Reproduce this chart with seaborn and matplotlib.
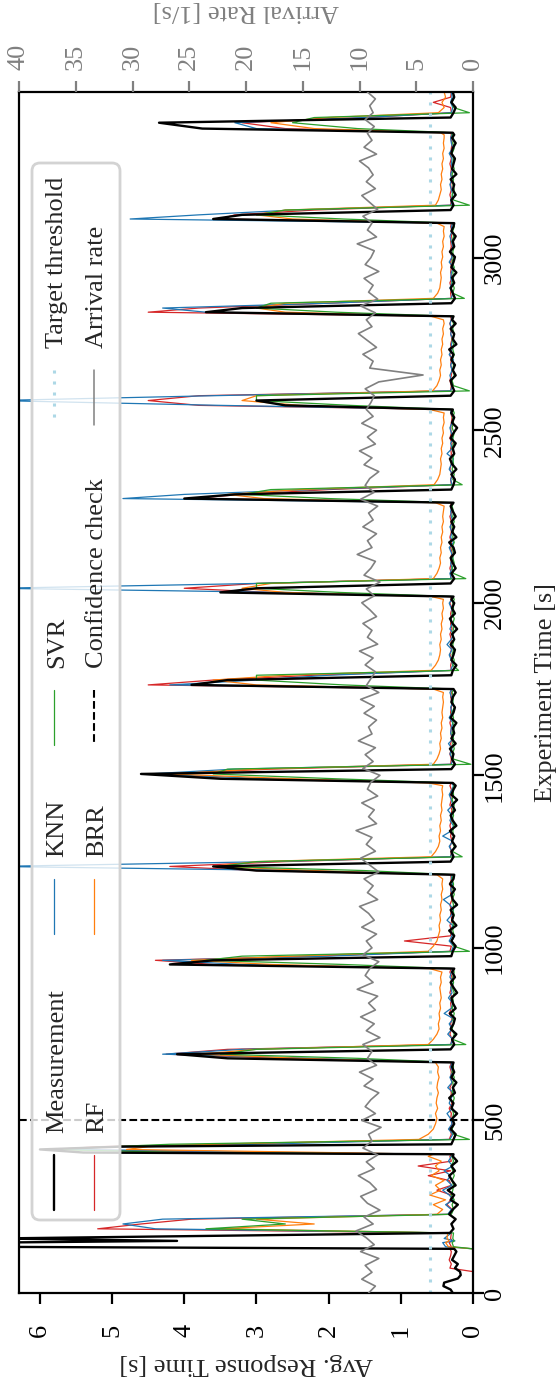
import numpy as np
import pandas as pd
import matplotlib
matplotlib.use('Agg')
import matplotlib.pyplot as plt
import seaborn as sns
from matplotlib.patches import FancyBboxPatch
from matplotlib.lines import Line2D
from matplotlib.transforms import IdentityTransform

# 1. Data (time in s, response time in s, arrival rate in 1/s)
time_s = [
    0, 10, 20, 30, 42, 52, 62, 72, 84, 96, 108, 120, 128,
    134, 146, 151, 158, 174,
    186, 200, 214, 228, 242, 256, 270, 284, 298, 312, 326, 340, 354, 368, 382, 396, 402,
    407, 416, 424, 431,
    445, 460, 475, 490, 505, 520, 535, 550, 565, 580, 595, 610, 625, 640, 655, 668,
    680, 692, 706,
    720, 735, 750, 765, 780, 795, 810, 825, 840, 855, 870, 885, 900, 915, 930, 940,
    952, 964, 976,
    990, 1005, 1020, 1035, 1050, 1065, 1080, 1095, 1110, 1125, 1140, 1155, 1170, 1185, 1200, 1212,
    1224, 1236, 1250,
    1264, 1279, 1294, 1309, 1324, 1339, 1354, 1369, 1384, 1399, 1414, 1429, 1444, 1459, 1470, 1478,
    1490, 1504, 1518,
    1532, 1547, 1562, 1577, 1592, 1607, 1622, 1637, 1652, 1667, 1682, 1697, 1712, 1727, 1740, 1750,
    1762, 1776, 1790,
    1804, 1819, 1834, 1849, 1864, 1879, 1894, 1909, 1924, 1939, 1954, 1969, 1984, 1999, 2010, 2018,
    2030, 2042, 2056,
    2070, 2085, 2100, 2115, 2130, 2145, 2160, 2175, 2190, 2205, 2220, 2235, 2250, 2265, 2280, 2290,
    2302, 2314, 2328,
    2342, 2357, 2372, 2387, 2402, 2417, 2432, 2447, 2462, 2477, 2492, 2507, 2522, 2537, 2550, 2560,
    2572, 2586, 2600,
    2614, 2629, 2644, 2659, 2674, 2689, 2704, 2719, 2734, 2749, 2764, 2779, 2794, 2809, 2820, 2830,
    2842, 2854, 2868,
    2882, 2897, 2912, 2927, 2942, 2957, 2972, 2987, 3002, 3017, 3032, 3047, 3062, 3077, 3090, 3100,
    3112, 3124, 3138,
    3152, 3167, 3182, 3197, 3212, 3227, 3242, 3257, 3272, 3287, 3302, 3317, 3332, 3347, 3356, 3362,
    3374, 3391, 3406,
    3420, 3435, 3450, 3465, 3480,
]

measurement = [
    0.28, 0.31, 0.41, 0.40, 0.21, 0.17, 0.18, 0.25, 0.21, 0.29, 0.26, 0.23, 0.26,
    6.9, 6.7, 4.1, 6.6, 0.32,
    0.27, 0.30, 0.24, 0.33, 0.28, 0.21, 0.31, 0.26, 0.35, 0.24, 0.29, 0.33, 0.25, 0.30, 0.22, 0.28, 0.27,
    5.4, 6.0, 4.9, 0.30,
    0.27, 0.24, 0.31, 0.26, 0.29, 0.22, 0.30, 0.27, 0.33, 0.25, 0.28, 0.23, 0.30, 0.26, 0.29, 0.27,
    3.4, 4.1, 0.31,
    0.26, 0.29, 0.23, 0.31, 0.27, 0.25, 0.32, 0.24, 0.28, 0.30, 0.22, 0.27, 0.31, 0.25, 0.29, 0.26,
    4.2, 3.6, 0.30,
    0.28, 0.24, 0.30, 0.26, 0.33, 0.23, 0.29, 0.27, 0.31, 0.22, 0.28, 0.30, 0.25, 0.32, 0.27, 0.26,
    3.0, 3.6, 0.31,
    0.27, 0.30, 0.24, 0.29, 0.26, 0.32, 0.23, 0.28, 0.31, 0.25, 0.29, 0.22, 0.30, 0.27, 0.24, 0.28,
    3.5, 4.6, 0.30,
    0.25, 0.29, 0.27, 0.32, 0.24, 0.30, 0.26, 0.28, 0.23, 0.31, 0.27, 0.25, 0.30, 0.28, 0.24, 0.27,
    3.9, 3.4, 0.30,
    0.28, 0.23, 0.30, 0.27, 0.25, 0.31, 0.26, 0.29, 0.22, 0.28, 0.32, 0.25, 0.29, 0.26, 0.30, 0.27,
    3.5, 3.0, 0.31,
    0.26, 0.30, 0.24, 0.28, 0.31, 0.25, 0.27, 0.33, 0.23, 0.29, 0.26, 0.30, 0.24, 0.28, 0.31, 0.27,
    4.0, 3.3, 0.30,
    0.27, 0.25, 0.30, 0.23, 0.29, 0.32, 0.26, 0.28, 0.24, 0.31, 0.27, 0.22, 0.29, 0.26, 0.30, 0.28,
    2.6, 3.0, 0.31,
    0.26, 0.29, 0.31, 0.24, 0.28, 0.25, 0.30, 0.27, 0.33, 0.23, 0.28, 0.26, 0.31, 0.24, 0.29, 0.27,
    3.7, 3.2, 0.30,
    0.25, 0.28, 0.31, 0.26, 0.29, 0.23, 0.30, 0.27, 0.25, 0.32, 0.26, 0.28, 0.24, 0.30, 0.27, 0.26,
    3.6, 3.2, 0.31,
    0.27, 0.30, 0.24, 0.28, 0.26, 0.31, 0.23, 0.29, 0.27, 0.25, 0.30, 0.28, 0.24, 0.29, 0.26, 0.28,
    3.75, 4.35, 0.31,
    0.27, 0.24, 0.30, 0.26, 0.28,
]

knn = [
    0, 0, 0, 0, 0, 0, 0, 0, 0, 0, 0, 0, 0,
    0.38, 0.42, 0.25, 0.40, 0.30,
    4.4, 4.85, 4.3, 0.35, 0.30, 0.38, 0.27, 0.33, 0.42, 0.29, 0.36, 0.31, 0.40, 0.28, 0.34, 0.30, 0.29,
    2.5, 5.6, 5.0, 3.0,
    0.32, 0.28, 0.34, 0.29, 0.31, 0.36, 0.28, 0.33, 0.30, 0.27, 0.35, 0.29, 0.32, 0.28, 0.31, 0.29,
    2.2, 4.3, 3.2,
    0.31, 0.28, 0.35, 0.29, 0.33, 0.27, 0.40, 0.30, 0.28, 0.34, 0.29, 0.31, 0.27, 0.32, 0.30, 0.28,
    3.2, 4.3, 2.0,
    0.30, 0.27, 0.33, 0.29, 0.31, 0.28, 0.36, 0.30, 0.27, 0.32, 0.41, 0.29, 0.31, 0.28, 0.30, 0.29,
    2.4, 6.6, 2.8,
    0.31, 0.29, 0.33, 0.28, 0.42, 0.30, 0.27, 0.32, 0.29, 0.35, 0.28, 0.30, 0.33, 0.29, 0.27, 0.30,
    2.8, 4.5, 3.3,
    0.30, 0.28, 0.32, 0.29, 0.34, 0.27, 0.31, 0.30, 0.28, 0.33, 0.29, 0.31, 0.28, 0.30, 0.32, 0.29,
    4.2, 3.0, 2.0,
    0.31, 0.28, 0.30, 0.33, 0.29, 0.36, 0.30, 0.27, 0.32, 0.29, 0.31, 0.28, 0.30, 0.33, 0.29, 0.28,
    2.6, 6.6, 3.0,
    0.30, 0.32, 0.29, 0.31, 0.28, 0.30, 0.33, 0.27, 0.31, 0.29, 0.32, 0.28, 0.30, 0.31, 0.29, 0.30,
    4.85, 4.0, 2.2,
    0.29, 0.31, 0.28, 0.33, 0.30, 0.27, 0.36, 0.29, 0.31, 0.28, 0.30, 0.32, 0.29, 0.27, 0.31, 0.30,
    3.5, 6.6, 3.6,
    0.31, 0.28, 0.30, 0.32, 0.29, 0.31, 0.27, 0.33, 0.29, 0.30, 0.28, 0.31, 0.29, 0.32, 0.30, 0.29,
    3.7, 4.3, 2.0,
    0.30, 0.28, 0.32, 0.29, 0.31, 0.30, 0.27, 0.33, 0.29, 0.31, 0.28, 0.30, 0.32, 0.29, 0.30, 0.28,
    4.75, 3.8, 2.5,
    0.29, 0.31, 0.28, 0.30, 0.32, 0.29, 0.31, 0.28, 0.30, 0.29, 0.33, 0.28, 0.30, 0.31, 0.29, 0.30,
    3.0, 3.3, 1.5,
    0.30, 0.28, 0.31, 0.29, 0.30,
]

rf = [
    0, 0, 0, 0, 0, 0, 0, 0.32, 0.30, 0.33, 0.31, 0.30, 0.32,
    0.30, 0.33, 0.29, 0.31, 0.30,
    5.2, 4.6, 3.9, 0.34, 0.29, 0.36, 0.31, 0.30, 0.50, 0.30, 0.33, 0.62, 0.31, 0.76, 0.30, 0.32, 0.30,
    3.0, 5.8, 5.2, 3.5,
    0.33, 0.30, 0.32, 0.29, 0.31, 0.30, 0.33, 0.29, 0.31, 0.30, 0.32, 0.29, 0.31, 0.30, 0.32, 0.30,
    2.6, 4.25, 3.4,
    0.31, 0.29, 0.32, 0.30, 0.31, 0.29, 0.33, 0.30, 0.31, 0.29, 0.32, 0.30, 0.31, 0.29, 0.32, 0.30,
    3.6, 4.4, 2.2,
    0.32, 0.30, 0.95, 0.31, 0.30, 0.32, 0.29, 0.31, 0.30, 0.32, 0.29, 0.31, 0.30, 0.32, 0.30, 0.31,
    3.0, 4.2, 2.6,
    0.31, 0.30, 0.32, 0.29, 0.31, 0.30, 0.32, 0.30, 0.31, 0.29, 0.32, 0.30, 0.31, 0.30, 0.32, 0.30,
    3.4, 4.3, 2.8,
    0.31, 0.30, 0.32, 0.30, 0.31, 0.29, 0.31, 0.30, 0.32, 0.30, 0.31, 0.30, 0.29, 0.31, 0.30, 0.31,
    4.5, 3.6, 2.2,
    0.30, 0.31, 0.29, 0.32, 0.30, 0.31, 0.30, 0.32, 0.29, 0.31, 0.30, 0.31, 0.29, 0.32, 0.30, 0.31,
    2.8, 4.0, 3.0,
    0.31, 0.30, 0.32, 0.30, 0.31, 0.29, 0.31, 0.30, 0.32, 0.30, 0.31, 0.30, 0.32, 0.29, 0.31, 0.30,
    3.9, 3.2, 2.0,
    0.30, 0.31, 0.29, 0.32, 0.30, 0.31, 0.30, 0.31, 0.29, 0.32, 0.30, 0.31, 0.30, 0.29, 0.31, 0.30,
    3.8, 4.5, 3.8,
    0.31, 0.30, 0.32, 0.30, 0.29, 0.31, 0.30, 0.32, 0.30, 0.31, 0.29, 0.31, 0.30, 0.32, 0.30, 0.31,
    4.5, 3.8, 2.0,
    0.30, 0.31, 0.30, 0.32, 0.29, 0.31, 0.30, 0.31, 0.29, 0.32, 0.30, 0.31, 0.30, 0.29, 0.31, 0.30,
    3.5, 3.3, 2.2,
    0.31, 0.30, 0.32, 0.30, 0.31, 0.29, 0.31, 0.30, 0.32, 0.30, 0.31, 0.30, 0.29, 0.31, 0.30, 0.31,
    2.6, 3.2, 1.5,
    0.30, 0.31, 0.55, 0.31, 0.30,
]

svr = [
    0, 0, 0, 0, 0, 0, 0, 0, 0, 0, 0, 0, 0,
    0.27, 0.29, 0.26, 0.28, 0.27,
    3.7, 2.6, 3.2, 0.30, 0.27, 0.29, 0.26, 0.30, 0.28, 0.27, 0.29, 0.26, 0.28, 0.30, 0.27, 0.29, 0.28,
    4.0, 5.9, 5.0, 4.2,
    0.05, 0.27, 0.29, 0.26, 0.28, 0.27, 0.29, 0.28, 0.26, 0.29, 0.27, 0.28, 0.26, 0.29, 0.27, 0.28,
    1.6, 3.5, 3.0,
    0.10, 0.28, 0.26, 0.29, 0.27, 0.28, 0.26, 0.29, 0.27, 0.28, 0.26, 0.29, 0.27, 0.28, 0.26, 0.28,
    1.8, 3.7, 3.2,
    0.05, 0.27, 0.29, 0.26, 0.28, 0.27, 0.29, 0.26, 0.28, 0.27, 0.29, 0.26, 0.28, 0.27, 0.29, 0.27,
    1.5, 3.5, 3.0,
    0.15, 0.28, 0.26, 0.29, 0.27, 0.28, 0.26, 0.29, 0.27, 0.28, 0.26, 0.29, 0.27, 0.28, 0.26, 0.28,
    1.9, 3.6, 3.4,
    0.03, 0.27, 0.29, 0.26, 0.28, 0.27, 0.29, 0.26, 0.28, 0.27, 0.29, 0.26, 0.28, 0.27, 0.29, 0.27,
    1.8, 3.0, 3.0,
    0.20, 0.28, 0.26, 0.29, 0.27, 0.28, 0.26, 0.29, 0.27, 0.28, 0.26, 0.29, 0.27, 0.28, 0.26, 0.28,
    1.85, 3.0, 3.0,
    0.10, 0.27, 0.29, 0.26, 0.28, 0.27, 0.29, 0.26, 0.28, 0.27, 0.29, 0.26, 0.28, 0.27, 0.29, 0.27,
    2.0, 3.2, 2.8,
    0.15, 0.28, 0.26, 0.29, 0.27, 0.28, 0.26, 0.29, 0.27, 0.28, 0.26, 0.29, 0.27, 0.28, 0.26, 0.28,
    1.7, 3.0, 3.0,
    0.05, 0.27, 0.29, 0.26, 0.28, 0.27, 0.29, 0.26, 0.28, 0.27, 0.29, 0.26, 0.28, 0.27, 0.29, 0.27,
    1.9, 3.0, 2.8,
    0.12, 0.28, 0.26, 0.29, 0.27, 0.28, 0.26, 0.29, 0.27, 0.28, 0.26, 0.29, 0.27, 0.28, 0.26, 0.28,
    1.8, 3.0, 2.6,
    0.05, 0.27, 0.29, 0.26, 0.28, 0.27, 0.29, 0.26, 0.28, 0.27, 0.29, 0.26, 0.28, 0.27, 0.29, 0.27,
    1.6, 2.5, 2.2,
    0.05, 0.27, 0.29, 0.26, 0.28,
]

brr = [
    0, 0, 0, 0, 0, 0, 0, 0, 0, 0, 0, 0, 0,
    0.34, 0.38, 0.33, 0.36, 0.35,
    3.5, 2.2, 3.0, 0.50, 0.42, 0.55, 0.38, 0.60, 0.45, 0.52, 0.40, 0.58, 0.47, 0.52, 0.44, 0.62, 0.55,
    2.0, 4.8, 4.5, 3.6,
    0.75, 0.62, 0.55, 0.52, 0.50, 0.52, 0.49, 0.51, 0.50, 0.48, 0.50, 0.49, 0.47, 0.49, 0.48, 0.52,
    2.4, 3.8, 3.0,
    0.62, 0.55, 0.50, 0.47, 0.48, 0.46, 0.47, 0.45, 0.46, 0.44, 0.45, 0.46, 0.44, 0.45, 0.43, 0.60,
    2.8, 3.9, 2.5,
    0.62, 0.55, 0.50, 0.48, 0.46, 0.47, 0.45, 0.46, 0.44, 0.45, 0.43, 0.44, 0.42, 0.43, 0.42, 0.50,
    2.2, 3.6, 3.0,
    0.58, 0.52, 0.48, 0.46, 0.47, 0.45, 0.46, 0.44, 0.45, 0.43, 0.44, 0.43, 0.42, 0.43, 0.42, 0.62,
    2.5, 4.2, 3.0,
    0.55, 0.50, 0.47, 0.45, 0.46, 0.44, 0.45, 0.43, 0.44, 0.42, 0.43, 0.42, 0.41, 0.42, 0.41, 0.55,
    3.0, 3.6, 2.6,
    0.58, 0.52, 0.48, 0.46, 0.45, 0.46, 0.44, 0.45, 0.43, 0.44, 0.42, 0.43, 0.41, 0.42, 0.41, 0.58,
    2.6, 3.2, 2.8,
    0.55, 0.50, 0.47, 0.45, 0.46, 0.44, 0.45, 0.43, 0.44, 0.42, 0.43, 0.41, 0.42, 0.41, 0.40, 0.52,
    2.9, 3.4, 2.4,
    0.54, 0.49, 0.46, 0.45, 0.44, 0.45, 0.43, 0.44, 0.42, 0.43, 0.41, 0.42, 0.40, 0.41, 0.40, 0.60,
    2.4, 3.2, 3.0,
    0.56, 0.50, 0.47, 0.45, 0.46, 0.44, 0.45, 0.43, 0.44, 0.42, 0.43, 0.41, 0.42, 0.40, 0.41, 0.58,
    2.6, 3.0, 2.6,
    0.55, 0.49, 0.46, 0.45, 0.44, 0.45, 0.43, 0.44, 0.42, 0.43, 0.41, 0.42, 0.40, 0.41, 0.40, 0.50,
    2.5, 3.0, 2.6,
    0.52, 0.48, 0.46, 0.44, 0.45, 0.43, 0.44, 0.42, 0.43, 0.41, 0.42, 0.40, 0.41, 0.40, 0.40, 0.45,
    2.2, 2.8, 2.0,
    0.48, 0.40, 0.43, 0.38, 0.40,
]

arrival_t = list(range(0, 3481, 20))
arrival_rate = [
    9.2, 8.6, 9.8, 8.9, 9.5, 8.3, 9.9, 8.7, 9.4, 10.3,
    8.8, 9.6, 8.2, 9.3, 9.9, 8.5, 9.1, 10.1, 8.7, 9.4,
    8.4, 9.7, 8.9, 9.2, 8.1, 9.8, 8.6, 9.5, 9.0, 8.3,
    9.6, 8.8, 10.0, 8.5, 9.3, 8.9, 9.7, 8.2, 9.4, 8.7,
    9.9, 8.6, 9.2, 8.4, 10.2, 8.8, 9.5, 9.1, 8.3, 9.7,
    8.9, 9.4, 8.5, 9.8, 8.7, 9.2, 10.0, 8.4, 9.3, 8.8,
    9.6, 8.3, 9.1, 9.9, 8.6, 9.4, 8.9, 10.3, 8.5, 9.2,
    8.7, 9.8, 8.4, 9.3, 9.0, 8.2, 9.7, 8.8, 9.5, 8.6,
    10.1, 8.9, 9.2, 8.5, 9.6, 8.7, 9.9, 8.3, 9.4, 9.0,
    8.6, 9.5, 8.8, 10.0, 8.4, 9.3, 8.9, 9.7, 8.5, 9.1,
    9.8, 8.7, 9.4, 8.2, 9.6, 9.0, 8.6, 10.2, 8.9, 9.3,
    8.5, 9.7, 8.8, 9.2, 8.4, 9.9, 8.7, 9.5, 9.1, 8.3,
    9.6, 8.9, 10.0, 8.6, 9.3, 8.5, 9.8, 8.8, 9.4, 9.0,
    8.7, 9.5, 8.3, 4.4, 9.1, 8.8, 9.7, 8.5, 9.3, 10.1,
    8.9, 9.4, 8.6, 9.9, 8.4, 9.2, 8.8, 9.6, 8.3, 9.5,
    9.0, 8.7, 10.2, 8.5, 9.3, 8.9, 9.7, 8.4, 9.1, 9.8,
    8.6, 9.4, 8.8, 9.2, 10.0, 8.5, 9.6, 8.9, 9.3, 8.7,
    9.5, 8.8, 9.1, 8.6, 9.3,
]

target_threshold = 0.6
confidence_check_t = 500

df = pd.DataFrame({'time': time_s, 'Measurement': measurement, 'KNN': knn,
                   'RF': rf, 'SVR': svr, 'BRR': brr})
arrivals = pd.DataFrame({'time': arrival_t, 'rate': arrival_rate})

# 2. Style
sns.set_theme(style='ticks')
plt.rcParams['font.family'] = ['Liberation Serif', 'DejaVu Serif']
plt.rcParams.update({'font.size': 19, 'xtick.labelsize': 19, 'ytick.labelsize': 19,
                     'axes.labelsize': 19, 'axes.linewidth': 1.6})

W, H = 557, 1377
fig = plt.figure(figsize=(W / 100, H / 100), dpi=100)
ax = fig.add_axes([19 / W, 84 / H, 454 / W, 1201 / H])

pal = sns.color_palette('tab10')
series = [('RF', pal[3], 0.9), ('KNN', pal[0], 0.9), ('BRR', pal[1], 0.9),
          ('SVR', pal[2], 0.9), ('Measurement', 'black', 1.7)]
for name, col, lw in series:
    sns.lineplot(data=df, x=name, y='time', ax=ax, orient='y', estimator=None,
                 color=col, lw=lw)

ax.axvline(target_threshold, color='lightblue', ls=(0, (1, 2.6)), lw=2.2)
ax.axhline(confidence_check_t, color='black', ls='--', lw=1.5)

ax.set_xlim(6.29, 0)
ax.set_ylim(0, 3480)
ax.set_xticks(range(7))
ax.set_yticks(range(0, 3001, 500))
ax.yaxis.tick_right()
ax.yaxis.set_label_position('right')
ax.tick_params(axis='x', labelrotation=90, length=8, width=1.6, pad=14, colors='black')
ax.tick_params(axis='y', labelrotation=90, length=8, width=1.6, pad=0, colors='black')
for lbl in ax.get_yticklabels():
    lbl.set_va('center')
for sp in ax.spines.values():
    sp.set_visible(True)
    sp.set_color('black')
    sp.set_linewidth(1.6)

ax.set_xlabel('Avg. Response Time [s]', rotation=180, va='center')
ax.xaxis.set_label_coords(0.5, -0.0595)
ax.set_ylabel('Experiment Time [s]', rotation=90, va='center')
ax.yaxis.set_label_coords(1.161, 0.5)

# 3. Arrival rate on the twin axis
ax2 = ax.twiny()
sns.lineplot(data=arrivals, x='rate', y='time', ax=ax2, orient='y', estimator=None,
             color='grey', lw=1.2)
ax2.set_xlim(40, 0)
ax2.set_ylim(0, 3480)
ax2.set_xticks(range(0, 41, 5))
ax2.tick_params(axis='x', labelrotation=90, length=8, width=1.6, pad=8,
                colors='grey', top=True, bottom=False, labeltop=True, labelbottom=False)
for sp in ax2.spines.values():
    sp.set_visible(False)
ax2.set_xlabel('Arrival Rate [1/s]', rotation=180, color='grey', va='center')
ax2.xaxis.set_label_position('top')
ax2.xaxis.set_label_coords(0.5, 1.0625)

# 4. Legend drawn by hand, rotated like the rest of the figure
ident = IdentityTransform()
fig.add_artist(FancyBboxPatch((32, H - 1220), 88, 1057,
                              boxstyle='round,pad=0,rounding_size=8', transform=ident,
                              fc=(1, 1, 1, 0.8), ec='#d3d3d3', lw=2, zorder=5))
legend_items = [
    (54, 1133, 'Measurement', 'black', '-', 1.7),
    (54, 857, 'KNN', pal[0], '-', 0.9),
    (54, 668, 'SVR', pal[2], '-', 0.9),
    (54, 348, 'Target threshold', 'lightblue', (0, (1, 2.6)), 2.2),
    (94, 1133, 'RF', pal[3], '-', 0.9),
    (94, 857, 'BRR', pal[1], '-', 0.9),
    (94, 668, 'Confidence check', 'black', '--', 1.5),
    (94, 348, 'Arrival rate', 'grey', '-', 1.1),
]
for x, y, label, col, ls, lw in legend_items:
    fig.add_artist(Line2D([x, x], [H - (y + 22), H - (y + 77)], transform=ident,
                          color=col, ls=ls, lw=lw, zorder=6))
    fig.text(x + 3, H - y, label, transform=ident, rotation=90, ha='center',
             va='bottom', fontsize=19, zorder=6)

fig.savefig('out.png', dpi=100)
